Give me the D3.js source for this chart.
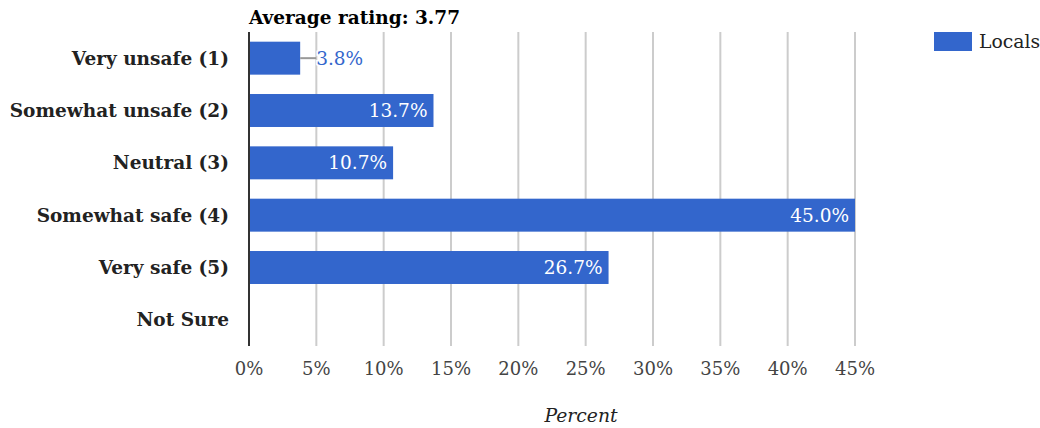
<!DOCTYPE html>
<html>
<head>
<meta charset="utf-8">
<script src="https://cdn.jsdelivr.net/npm/d3@7"></script>
<style>
body { margin: 0; background: #fff; }
text { font-family: "DejaVu Serif", serif; }
</style>
</head>
<body>
<script>
// chart data
var categories = ["Very unsafe (1)", "Somewhat unsafe (2)", "Neutral (3)", "Somewhat safe (4)", "Very safe (5)", "Not Sure"];
var locals = [3.8, 13.7, 10.7, 45.0, 26.7, 0];
var ticks = [0, 5, 10, 15, 20, 25, 30, 35, 40, 45];
var seriesName = "Locals";
var avgRating = "3.77";

var w = 1040, h = 428;
var plotLeft = 249, plotRight = 855, plotTop = 32, plotBottom = 346;
var barColor = "#3366cc";
var fs = "18.5px";

var svg = d3.select("body").append("svg")
  .attr("width", w)
  .attr("height", h);

var x = d3.scaleLinear().domain([0, 45]).range([plotLeft, plotRight]);
var y = d3.scaleBand().domain(categories).range([plotTop, plotBottom]).paddingInner(0.37).paddingOuter(0.185);

// gridlines
svg.append("g").selectAll("line")
  .data(ticks.slice(1))
  .enter().append("line")
  .attr("x1", function(d) { return x(d); })
  .attr("x2", function(d) { return x(d); })
  .attr("y1", plotTop).attr("y2", plotBottom)
  .attr("stroke", "#cccccc")
  .attr("stroke-width", 2);

// x tick labels
svg.append("g").selectAll("text")
  .data(ticks)
  .enter().append("text")
  .attr("x", function(d) { return x(d); })
  .attr("y", 375)
  .attr("text-anchor", "middle")
  .attr("font-size", "18px")
  .attr("fill", "#444")
  .text(function(d) { return d + "%"; });

// bars
svg.append("g").selectAll("rect")
  .data(locals)
  .enter().append("rect")
  .attr("x", x(0))
  .attr("y", function(d, i) { return y(categories[i]); })
  .attr("width", function(d) { return x(d) - x(0); })
  .attr("height", y.bandwidth())
  .attr("fill", barColor);

// value labels
var inside = function(d) { return x(d) - x(0) > 60; };
var rows = locals.map(function(d, i) { return { v: d, cat: categories[i] }; })
  .filter(function(r) { return r.v > 0; });

var lbl = svg.append("g").selectAll("g")
  .data(rows)
  .enter().append("g");

lbl.filter(function(r) { return !inside(r.v); })
  .append("line")
  .attr("x1", function(r) { return x(r.v); })
  .attr("x2", function(r) { return x(r.v) + 16; })
  .attr("y1", function(r) { return y(r.cat) + y.bandwidth() / 2; })
  .attr("y2", function(r) { return y(r.cat) + y.bandwidth() / 2; })
  .attr("stroke", "#999")
  .attr("stroke-width", 2);

lbl.append("text")
  .attr("x", function(r) { return inside(r.v) ? x(r.v) - 6 : x(r.v) + 16; })
  .attr("y", function(r) { return y(r.cat) + y.bandwidth() / 2 + 6.5; })
  .attr("text-anchor", function(r) { return inside(r.v) ? "end" : "start"; })
  .attr("font-size", fs)
  .attr("fill", function(r) { return inside(r.v) ? "#fff" : barColor; })
  .attr("stroke", function(r) { return inside(r.v) ? "none" : "#fff"; })
  .attr("stroke-width", 3)
  .attr("paint-order", "stroke")
  .text(function(r) { return r.v.toFixed(1) + "%"; });

// y axis line
svg.append("line")
  .attr("x1", plotLeft).attr("x2", plotLeft)
  .attr("y1", plotTop).attr("y2", plotBottom)
  .attr("stroke", "#333")
  .attr("stroke-width", 2);

// category labels
svg.append("g").selectAll("text")
  .data(categories)
  .enter().append("text")
  .attr("x", 229)
  .attr("y", function(d) { return y(d) + y.bandwidth() / 2 + 6.5; })
  .attr("text-anchor", "end")
  .attr("font-size", fs)
  .attr("font-weight", "bold")
  .attr("fill", "#222")
  .text(function(d) { return d; });

// title
svg.append("text")
  .attr("x", plotLeft)
  .attr("y", 24)
  .attr("font-size", fs)
  .attr("font-weight", "bold")
  .attr("fill", "#000")
  .text("Average rating: " + avgRating);

// axis title
svg.append("text")
  .attr("x", 581)
  .attr("y", 422)
  .attr("text-anchor", "middle")
  .attr("font-size", "18.8px")
  .attr("font-style", "italic")
  .attr("fill", "#222")
  .text("Percent");

// legend
svg.append("rect")
  .attr("x", 934).attr("y", 32)
  .attr("width", 38).attr("height", 19)
  .attr("fill", barColor);
svg.append("text")
  .attr("x", 979).attr("y", 48)
  .attr("font-size", "18.8px")
  .attr("fill", "#222")
  .text(seriesName);
</script>
</body>
</html>
